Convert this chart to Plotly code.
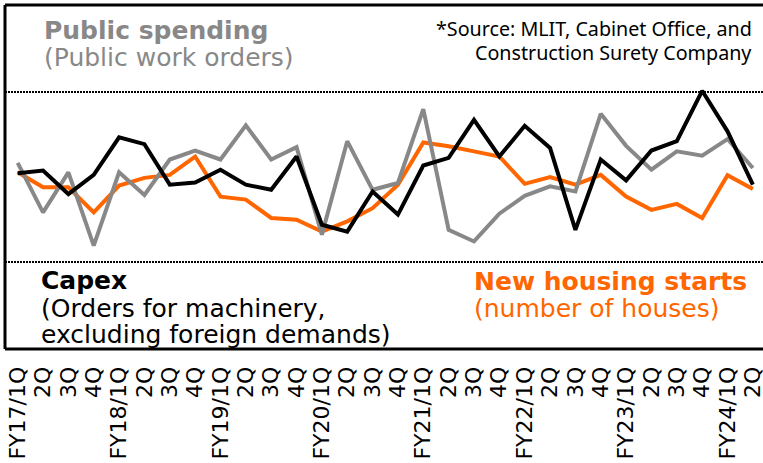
import plotly.graph_objects as go

quarters = [f"FY{y}/{q}Q" for y in range(17, 25) for q in range(1, 5)][:30]
tick_labels = ["FY17/1Q", "2Q", "3Q", "4Q",
               "FY18/1Q", "2Q", "3Q", "4Q",
               "FY19/1Q", "2Q", "3Q", "4Q",
               "FY20/1Q", "2Q", "3Q", "4Q",
               "FY21/1Q", "2Q", "3Q", "4Q",
               "FY22/1Q", "2Q", "3Q", "4Q",
               "FY23/1Q", "2Q", "3Q", "4Q",
               "FY24/1Q", "2Q"]

capex = [0.9, 1.5, -4.0, 0.5, 9.3, 7.7, -1.8, -1.3, 1.7, -1.8,
         -3.0, 4.8, -11.2, -12.8, -3.4, -8.8, 2.7, 4.5, 13.4, 4.8,
         12.0, 6.8, -12.4, 4.1, -0.8, 6.2, 8.4, 20.2, 10.7, -1.8]
public = [3.3, -8.3, 1.1, -16.1, 1.1, -4.2, 4.1, 6.2, 4.1, 12.1,
          4.1, 7.0, -13.5, 8.4, -3.0, -1.4, 15.9, -12.4, -15.1, -8.6,
          -4.4, -2.2, -3.4, 14.8, 7.3, 1.7, 6.0, 5.0, 8.9, 2.1]
housing = [1.1, -2.4, -2.4, -8.3, -2.0, -0.2, 0.5, 4.8, -4.6, -5.3,
           -9.6, -10.0, -12.8, -10.4, -7.3, -1.8, 8.1, 7.2, 6.0, 4.8,
           -1.6, 0.0, -1.8, 0.5, -4.6, -7.7, -6.3, -9.6, 0.4, -2.8]
boundaries = [i + 0.5 for i in range(29)]

GRAY = "#888888"
ORANGE = "#FF6600"
FONT = "DejaVu Sans"

fig = go.Figure()
fig.add_trace(go.Scatter(x=quarters, y=housing, mode="lines",
                         line=dict(color=ORANGE, width=4), name="housing"))
fig.add_trace(go.Scatter(x=quarters, y=public, mode="lines",
                         line=dict(color=GRAY, width=4), name="public"))
fig.add_trace(go.Scatter(x=quarters, y=capex, mode="lines",
                         line=dict(color="black", width=4), name="capex"))

W, H = 763, 463
L, T, B = 5, 5, 114
PW, PH = W - L, H - T - B


def px(x):
    return (x - L) / PW


def py(y):
    return (H - B - y) / PH


ann = []
def add(text, x, y, size, color, family=FONT, xanchor="left"):
    ann.append(dict(text=text, x=px(x), y=py(y), xref="paper", yref="paper",
                    xanchor=xanchor, yanchor="middle", showarrow=False,
                    borderpad=0, font=dict(family=family, size=size, color=color)))

add("<b>Public spending</b>", 43, 30, 25, GRAY)
add("(Public work orders)", 43, 57.3, 25, GRAY)
add("*Source: MLIT, Cabinet Office, and", 753, 28.7, 19.7, "black", "Noto Sans", "right")
add("Construction Surety Company", 753, 52.7, 19.7, "black", "Noto Sans", "right")
add("<b>Capex</b>", 40, 280.6, 25, "black")
add("(Orders for machinery,", 40, 308.3, 25, "black")
add("excluding foreign demands)", 40, 334.3, 25, "black")
add("<b>New housing starts</b>", 473, 281.6, 25, ORANGE)
add("(number of houses)", 473, 308.3, 25, ORANGE)

frame = dict(color="black", width=3)
shapes = [
    dict(type="line", xref="paper", yref="paper", x0=0, x1=1, y0=1, y1=1, line=frame, layer="above"),
    dict(type="line", xref="paper", yref="paper", x0=0, x1=1, y0=0, y1=0, line=frame, layer="above"),
    dict(type="line", xref="paper", yref="paper", x0=0, x1=0, y0=0, y1=1, line=frame, layer="above"),
]

fig.update_layout(
    width=W, height=H,
    margin=dict(l=L, r=0, t=T, b=B, pad=0, autoexpand=False),
    paper_bgcolor="white", plot_bgcolor="white",
    showlegend=False,
    annotations=ann,
    shapes=shapes,
    xaxis=dict(type="category", range=[-0.5, 29.4], tickmode="array",
               tickvals=quarters, ticktext=tick_labels, tickangle=-90,
               tickfont=dict(family=FONT, size=22, color="black"),
               ticks="outside", ticklen=8, tickcolor="rgba(0,0,0,0)",
               showgrid=False, zeroline=False, showline=False,
               automargin=False),
    xaxis2=dict(overlaying="x", anchor="free", position=0.5, side="top",
                range=[-0.5, 29.4], tickmode="array", tickvals=boundaries,
                ticks="outside", ticklen=7, tickwidth=1.5, tickcolor="#666666",
                showticklabels=False, showgrid=False, zeroline=False,
                showline=True, linecolor="#666666", linewidth=1.5,
                layer="below traces", automargin=False),
    yaxis=dict(range=[-40.3, 40.3], tickmode="array", tickvals=[-20, 20],
               showticklabels=False, ticks="", showgrid=True,
               gridcolor="black", gridwidth=1.5, griddash="1.5px,1.5px",
               zeroline=False, showline=False, automargin=False),
)

fig.write_html("out.html", config={"displayModeBar": False},
               post_script="document.body.style.margin='0';document.body.style.overflow='hidden';")
